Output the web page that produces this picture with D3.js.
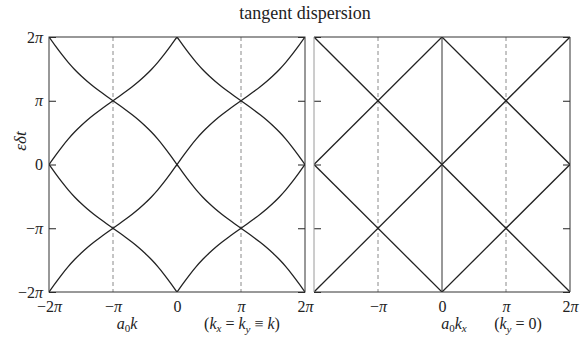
<!DOCTYPE html>
<html>
<head>
<meta charset="utf-8">
<script src="https://cdn.jsdelivr.net/npm/d3@7"></script>
<style>
  body { margin: 0; background: #fff; }
  text { font-family: "Liberation Serif", "DejaVu Serif", serif; fill: #222; }
</style>
</head>
<body>
<svg width="584" height="337"></svg>
<script>
const PI = Math.PI;

// tangent dispersion branch on 0..pi, both k and eps in units of pi
const kHalf   = [0, 0.1, 0.2, 0.3, 0.4, 0.5, 0.6, 0.7, 0.8, 0.9, 1];
const epsHalf = [0, 0.140, 0.274, 0.398, 0.509, 0.608, 0.698, 0.780, 0.856, 0.929, 1];

// right panel: straight branches eps = +-k, ends in units of pi
const linK = [-2, 2];
// vertical guides (dashed) in units of pi
const guideK = [-1, 1];
// branch offsets in units of pi
const shifts = [-2, 0, 2];

const tickVals = [-2, -1, 0, 1, 2];
const tickText = ["−2π", "−π", "0", "π", "2π"];

const svg = d3.select('svg');

const y = d3.scaleLinear().domain([-2 * PI, 2 * PI]).range([292, 37]);
const xL = d3.scaleLinear().domain([-2 * PI, 2 * PI]).range([49, 305]);
const xR = d3.scaleLinear().domain([-2 * PI, 2 * PI]).range([314, 570]);

// full branch on -2pi..2pi
let branch = [];
kHalf.forEach((k, i) => branch.push([k, epsHalf[i]]));
for (let i = kHalf.length - 2; i >= 0; i--) branch.push([2 - kHalf[i], 2 - epsHalf[i]]);
const negSide = branch.slice(1).map(([k, e]) => [-k, -e]).reverse();
branch = negSide.concat(branch);

const piLabel = sel => sel.each(function() {
  const t = d3.select(this);
  const s = t.text();
  t.text(null);
  const i = s.indexOf('π');
  if (i < 0) { t.text(s); return; }
  if (i > 0) t.append('tspan').text(s.slice(0, i));
  t.append('tspan').attr('font-style', 'italic').text('π');
});

const fmt = v => tickText[tickVals.indexOf(Math.round(v / PI))];

const panel = (x, id, curves, xticks, yLabels) => {
  const g = svg.append('g');
  g.append('clipPath').attr('id', id)
    .append('rect')
    .attr('x', x.range()[0]).attr('y', y.range()[1])
    .attr('width', x.range()[1] - x.range()[0])
    .attr('height', y.range()[0] - y.range()[1]);

  g.selectAll('.guide').data(guideK).enter().append('line')
    .attr('class', 'guide')
    .attr('x1', d => x(d * PI)).attr('x2', d => x(d * PI))
    .attr('y1', y.range()[1]).attr('y2', y.range()[0])
    .attr('stroke', '#8a8a8a').attr('stroke-width', 1)
    .attr('stroke-dasharray', '4,3');

  const line = d3.line()
    .x(d => x(d[0] * PI)).y(d => y(d[1] * PI))
    .curve(d3.curveMonotoneX);

  g.append('g').attr('clip-path', `url(#${id})`)
    .selectAll('path').data(curves).enter().append('path')
    .attr('d', line)
    .attr('fill', 'none')
    .attr('stroke', '#222')
    .attr('stroke-width', 1.3);

  g.append('g').attr('transform', `translate(${x.range()[0]},0)`)
    .call(d3.axisLeft(y).tickValues(tickVals.map(v => v * PI)).tickSize(-7).tickPadding(6)
      .tickFormat(yLabels ? fmt : ''))
    .call(a => a.select('.domain').remove())
    .call(a => a.selectAll('line').attr('stroke', '#222'))
    .call(a => a.selectAll('text').attr('font-size', 16).attr('fill', '#222').attr('font-family', null));

  g.append('g').attr('transform', `translate(${x.range()[1]},0)`)
    .call(d3.axisRight(y).tickValues(tickVals.map(v => v * PI)).tickSize(-7).tickFormat(''))
    .call(a => a.select('.domain').remove())
    .call(a => a.selectAll('line').attr('stroke', '#222'));

  g.append('g').attr('transform', `translate(0,${y.range()[0]})`)
    .call(d3.axisBottom(x).tickValues(xticks.map(v => v * PI)).tickSize(0).tickPadding(9).tickFormat(fmt))
    .call(a => a.select('.domain').remove())
    .call(a => a.selectAll('text').attr('font-size', 16).attr('fill', '#222').attr('font-family', null));

  return g;
};

// left panel: tangent branches
const leftCurves = [];
[1, -1].forEach(s => shifts.forEach(n => leftCurves.push(branch.map(([k, e]) => [k, s * e + n]))));
const gL = panel(xL, 'clipL', leftCurves, tickVals, true);
gL.append('rect')
  .attr('x', 49).attr('y', 37).attr('width', 256).attr('height', 255)
  .attr('fill', 'none').attr('stroke', '#333').attr('stroke-width', 1);

// right panel: linear branches
const rightCurves = [];
[1, -1].forEach(s => shifts.forEach(n => rightCurves.push(linK.map(k => [k, s * k + n]))));
const gR = panel(xR, 'clipR', rightCurves, tickVals.slice(1), false);
gR.append('line')
  .attr('x1', xR(0)).attr('x2', xR(0)).attr('y1', 37).attr('y2', 292)
  .attr('stroke', '#333').attr('stroke-width', 1);
gR.append('path')
  .attr('d', 'M314,37H570V292H314')
  .attr('fill', 'none').attr('stroke', '#333').attr('stroke-width', 1);
gR.append('line')
  .attr('x1', 314).attr('x2', 314).attr('y1', 37).attr('y2', 292)
  .attr('stroke', '#9a9a9a').attr('stroke-width', 1);

svg.selectAll('.tick text').call(piLabel);

// title and labels
svg.append('text')
  .attr('x', 305).attr('y', 19)
  .attr('text-anchor', 'middle').attr('font-size', 18)
  .text('tangent dispersion');

const label = (xp, yp, parts, rot) => {
  const t = svg.append('text')
    .attr('text-anchor', 'middle').attr('font-size', rot ? 17 : 16)
    .attr('transform', `translate(${xp},${yp})` + (rot ? ' rotate(-90)' : ''));
  parts.forEach(([s, it, sub]) => {
    const ts = t.append('tspan').text(s);
    if (it) ts.attr('font-style', 'italic');
    if (sub) ts.attr('font-size', 11).attr('baseline-shift', sub === 'y' ? '-4' : '-3');
  });
};

label(26, 141, [['ε', true], ['δ', true], ['t', true]], true);
label(127, 329, [['a', true], ['0', false, 1], ['k', true]]);
label(242, 329, [['(', false], ['k', true], ['x', true, 1], [' = ', false], ['k', true], ['y', true, 'y'], [' ≡ ', false], ['k', true], [')', false]]);
label(454, 329, [['a', true], ['0', false, 1], ['k', true], ['x', true, 1]]);
label(518, 329, [['(', false], ['k', true], ['y', true, 'y'], [' = 0)', false]]);
</script>
</body>
</html>
